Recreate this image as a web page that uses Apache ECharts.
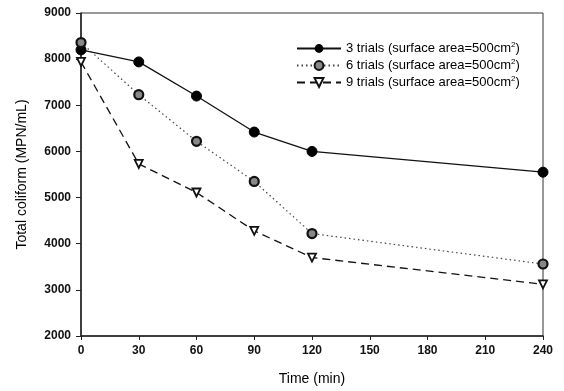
<!DOCTYPE html>
<html><head><meta charset="utf-8">
<script src="https://cdn.jsdelivr.net/npm/echarts@6/dist/echarts.min.js"></script>
<style>html,body{margin:0;padding:0;background:#fff}#c{width:564px;height:391px}</style>
</head><body><div id="c"></div>
<script>
var times = [0, 30, 60, 90, 120, 240];
var trials3 = [8200, 7940, 7200, 6420, 6000, 5550];
var trials6 = [8360, 7230, 6220, 5350, 4220, 3560];
var trials9 = [7940, 5730, 5110, 4280, 3700, 3120];
var seriesNames = ['3 trials (surface area=500cm2)', '6 trials (surface area=500cm2)', '9 trials (surface area=500cm2)'];

function pairs(v){ return times.map(function(t,i){ return [t, v[i]]; }); }
var font = 'Liberation Sans, Arial, sans-serif';
var chart = echarts.init(document.getElementById('c'));
chart.setOption({
  animation: false,
  backgroundColor: '#fff',
  grid: {left: 81, right: 21, top: 13, bottom: 54, show: true, borderColor: '#333', borderWidth: 1},
  legend: {
    left: 291, top: 36, orient: 'vertical', itemGap: 3, itemWidth: 44, itemHeight: 11,
    data: seriesNames,
    formatter: function(n){ return n.replace('cm2)', 'cm{s|2})'); },
    textStyle: {fontFamily: font, fontSize: 13, color: '#000',
      rich: {s: {fontSize: 8, verticalAlign: 'top', padding: [0,0,7,0], fontFamily: font, color: '#000'}}}
  },
  xAxis: {
    type: 'value', min: 0, max: 240, interval: 30,
    name: 'Time (min)', nameLocation: 'middle', nameGap: 36,
    nameTextStyle: {fontFamily: font, fontSize: 14, color: '#000'},
    axisLine: {lineStyle: {color: '#222', width: 1.5}},
    axisTick: {show: true, inside: false, length: 4, lineStyle: {color: '#222'}},
    axisLabel: {fontFamily: font, fontSize: 12, fontWeight: 'bold', color: '#111', margin: 9},
    splitLine: {show: false}
  },
  yAxis: {
    type: 'value', min: 2000, max: 9000, interval: 1000,
    name: 'Total coliform (MPN/mL)', nameLocation: 'middle', nameGap: 52, nameRotate: 90,
    nameTextStyle: {fontFamily: font, fontSize: 14, color: '#000'},
    axisLine: {show: true, lineStyle: {color: '#222', width: 1.5}},
    axisTick: {show: true, inside: false, length: 5, lineStyle: {color: '#222'}},
    axisLabel: {fontFamily: font, fontSize: 12, fontWeight: 'bold', color: '#111', margin: 10,
      formatter: function(v){ return String(v); }},
    splitLine: {show: false}
  },
  series: [
    {name: seriesNames[0], type: 'line', data: pairs(trials3), symbol: 'circle', symbolSize: 10,
     itemStyle: {color: '#000', borderColor: '#000'}, lineStyle: {color: '#111', width: 1.3, type: 'solid'}},
    {name: seriesNames[1], type: 'line', data: pairs(trials6), symbol: 'circle', symbolSize: 9,
     itemStyle: {color: '#888', borderColor: '#111', borderWidth: 2.2}, lineStyle: {color: '#444', width: 1.2, type: [1.5, 3]}},
    {name: seriesNames[2], type: 'line', data: pairs(trials9), symbol: 'triangle', symbolRotate: 180, symbolSize: 8,
     itemStyle: {color: '#fff', borderColor: '#111', borderWidth: 1.8}, lineStyle: {color: '#111', width: 1.3, type: [8, 5]}}
  ]
});
</script></body></html>
